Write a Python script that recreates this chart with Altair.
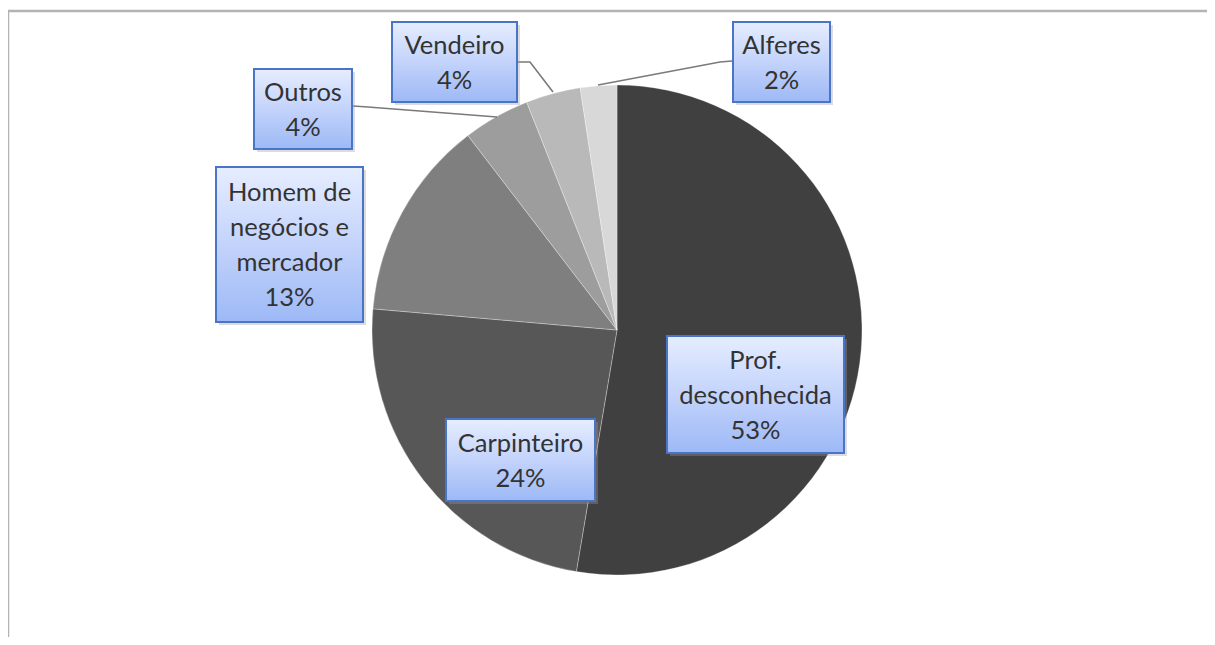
import altair as alt
import pandas as pd

# ---- data ----
categories = ["Prof. desconhecida", "Carpinteiro", "Homem de negócios e mercador",
              "Outros", "Vendeiro", "Alferes"]
shares = [52.6, 23.7, 13.2, 4.4, 3.6, 2.4]
label_names = ["Prof.\ndesconhecida", "Carpinteiro", "Homem de\nnegócios e\nmercador",
               "Outros", "Vendeiro", "Alferes"]
slice_colors = ["#404040", "#575757", "#7f7f7f", "#9d9d9d", "#b9b9b9", "#d8d8d8"]

# ---- layout (chart pixel coordinates; page origin offset 8px) ----
W, H = 1199, 629
OFF = 8
LINE_H = 35
CX, CY, R = 617 - OFF, 330 - OFF, 245
# label boxes: x1, x2, y1, y2 in screen px
box_px = [
    (667, 844, 336, 453),
    (446, 595, 419, 501),
    (216, 363, 167, 322),
    (254, 352, 69, 149),
    (392, 517, 22, 102),
    (733, 830, 22, 102),
]
# leader lines (screen px)
leaders = {
    "Outros": [(353, 106), (368, 107), (497, 117)],
    "Vendeiro": [(518, 62), (530, 62), (553, 92)],
    "Alferes": [(732, 61), (720, 62), (598, 85)],
}

pie_df = pd.DataFrame({"cat": categories, "share": shares, "idx": range(len(categories))})

box_rows = []
for i, c in enumerate(categories):
    x1, x2, y1, y2 = box_px[i]
    label = f"{label_names[i]}\n{round(shares[i])}%"
    n = label.count("\n") + 1
    box_rows.append({
        "cat": c,
        "x1": x1 - OFF, "x2": x2 - OFF, "y1": y1 - OFF, "y2": y2 - OFF,
        "xc": (x1 + x2) / 2 - OFF,
        "yc": (y1 + y2) / 2 - OFF + 1 - (n - 1) * LINE_H / 2,
        "sx1": x1 - OFF + 3, "sx2": x2 - OFF + 3, "sy1": y1 - OFF + 3, "sy2": y2 - OFF + 3,
        "label": label,
    })
box_df = pd.DataFrame(box_rows)

line_rows = []
for name, pts in leaders.items():
    for k, (x, y) in enumerate(pts):
        line_rows.append({"g": name, "o": k, "x": x - OFF, "y": y - OFF})
line_df = pd.DataFrame(line_rows)

border_df = pd.DataFrame({
    "x1": [0, 0], "x2": [W, 0], "y1": [3, 3], "y2": [3, H],
})

xs = alt.Scale(domain=[0, W], range=[0, W], nice=False, zero=False)
ys = alt.Scale(domain=[0, H], range=[0, H], nice=False, zero=False)

pie = alt.Chart(pie_df).mark_arc(radius=R, stroke="#ffffff", strokeWidth=0.6, strokeOpacity=0.5).encode(
    theta=alt.Theta("share:Q", stack=True),
    color=alt.Color("cat:N", scale=alt.Scale(domain=categories, range=slice_colors),
                    sort=categories, legend=None),
    order=alt.Order("idx:Q"),
    x=alt.value(CX),
    y=alt.value(CY),
)

borders = alt.Chart(border_df).mark_rule(color="#b3b3b3", strokeWidth=2.5).encode(
    x=alt.X("x1:Q", scale=xs, axis=None),
    x2="x2:Q",
    y=alt.Y("y1:Q", scale=ys, axis=None),
    y2="y2:Q",
)

lines = alt.Chart(line_df).mark_line(color="#7a7a7a", strokeWidth=1.6).encode(
    x=alt.X("x:Q", scale=xs, axis=None),
    y=alt.Y("y:Q", scale=ys, axis=None),
    detail="g:N",
    order="o:Q",
)

shadow = alt.Chart(box_df).mark_rect(color="#9a9a9a", opacity=0.35).encode(
    x=alt.X("sx1:Q", scale=xs, axis=None), x2="sx2:Q",
    y=alt.Y("sy1:Q", scale=ys, axis=None), y2="sy2:Q",
)

grad = alt.LinearGradient(
    gradient="linear",
    stops=[alt.GradientStop(color="#e6edff", offset=0),
           alt.GradientStop(color="#c3d3fb", offset=0.5),
           alt.GradientStop(color="#9db9f6", offset=1)],
    x1=0, x2=0, y1=0, y2=1,
)
boxes = alt.Chart(box_df).mark_rect(fill=grad, stroke="#4a74c8", strokeWidth=2).encode(
    x=alt.X("x1:Q", scale=xs, axis=None), x2="x2:Q",
    y=alt.Y("y1:Q", scale=ys, axis=None), y2="y2:Q",
)

texts = alt.Chart(box_df).mark_text(
    font="Lato", fontSize=25.5, color="#333333", lineBreak="\n", lineHeight=LINE_H,
    align="center", baseline="middle",
).encode(
    x=alt.X("xc:Q", scale=xs, axis=None),
    y=alt.Y("yc:Q", scale=ys, axis=None),
    text="label:N",
)

chart = alt.layer(borders, pie, lines, shadow, boxes, texts).properties(
    width=W, height=H, padding=0, autosize="none", background="#ffffff",
).configure_view(stroke=None)

chart.save("out.html", embed_options={"renderer": "svg", "actions": False})
